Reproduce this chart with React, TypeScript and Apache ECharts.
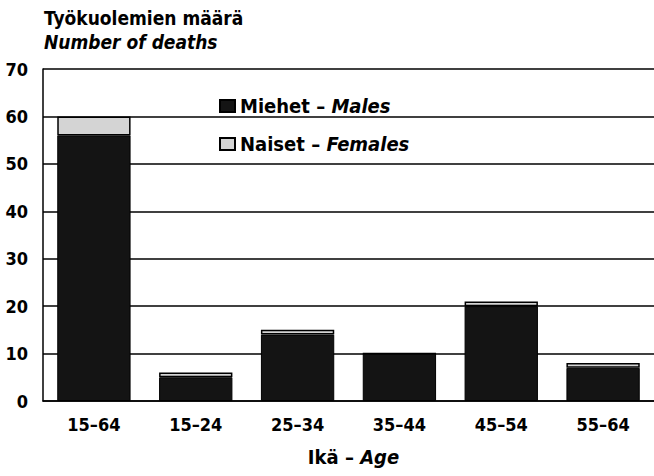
import React, { useEffect, useRef } from "react";
import * as echarts from "echarts";

const categories = ["15–64", "15–24", "25–34", "35–44", "45–54", "55–64"];
const males = [56, 5, 14, 10, 20, 7];
const females = [4, 1, 1, 0, 1, 1];
const seriesFi = ["Miehet", "Naiset"];
const seriesEn = ["Males", "Females"];
const yTicks = [0, 10, 20, 30, 40, 50, 60, 70];

const FONT = "'Liberation Sans Narrow', 'DejaVu Sans Condensed', 'Liberation Sans', sans-serif";

export default function App() {
  const ref = useRef<HTMLDivElement>(null);
  useEffect(() => {
    if (!ref.current) return;
    const chart = echarts.init(ref.current, null, { renderer: "svg" });
    chart.setOption({
      animation: false,
      backgroundColor: "#ffffff",
      title: {
        text: "Työkuolemien määrä",
        subtext: "Number of deaths",
        left: 39,
        top: 3,
        itemGap: 5,
        textStyle: { fontFamily: FONT, fontWeight: "bold", fontSize: 19, color: "#000" },
        subtextStyle: { fontFamily: FONT, fontStyle: "italic", fontWeight: "bold", fontSize: 19, color: "#000" },
      },
      legend: {
        orient: "vertical",
        left: 214,
        top: 91,
        itemGap: 18,
        itemWidth: 15,
        itemHeight: 12,
        icon: "rect",
        data: seriesFi,
        formatter: (name: string) => {
          const i = seriesFi.indexOf(name);
          return `{a|${name} – }{b|${seriesEn[i]}}`;
        },
        textStyle: {
          fontFamily: FONT,
          fontSize: 20,
          color: "#000",
          rich: {
            a: { fontFamily: FONT, fontSize: 20, fontWeight: "bold", color: "#000" },
            b: { fontFamily: FONT, fontSize: 20, fontWeight: "bold", fontStyle: "italic", color: "#000" },
          },
        },
      },
      grid: { left: 43, top: 69, width: 620, bottom: 75, containLabel: false },
      xAxis: {
        type: "category",
        data: categories,
        axisTick: { show: false },
        axisLine: { show: true, lineStyle: { color: "#000", width: 1.5 } },
        axisLabel: { fontFamily: FONT, fontWeight: "bold", fontSize: 18, color: "#000", margin: 14 },
        name: "{a|Ikä – }{b|Age}",
        nameLocation: "middle",
        nameGap: 46,
        nameTextStyle: {
          padding: [0, 0, 0, 10],
          rich: {
            a: { fontFamily: FONT, fontSize: 20, fontWeight: "bold", color: "#000" },
            b: { fontFamily: FONT, fontSize: 20, fontWeight: "bold", fontStyle: "italic", color: "#000" },
          },
        },
      },
      yAxis: {
        type: "value",
        min: yTicks[0],
        max: yTicks[yTicks.length - 1],
        interval: 10,
        axisLine: { show: true, lineStyle: { color: "#000", width: 1.5 } },
        axisTick: { show: false },
        splitLine: { show: true, lineStyle: { color: "#000", width: 1.5 } },
        axisLabel: { fontFamily: FONT, fontWeight: "bold", fontSize: 18, color: "#000", margin: 15 },
      },
      series: [
        {
          name: seriesFi[0],
          type: "bar",
          stack: "total",
          data: males,
          barCategoryGap: "28%",
          itemStyle: { color: "#141414", borderColor: "#000", borderWidth: 1 },
        },
        {
          name: seriesFi[1],
          type: "bar",
          stack: "total",
          data: females,
          barCategoryGap: "28%",
          itemStyle: { color: "#d4d4d4", borderColor: "#000", borderWidth: 1.5 },
        },
      ],
    });
    return () => chart.dispose();
  }, []);
  return <div ref={ref} style={{ width: 654, height: 476, position: "absolute", left: 0, top: 0 }} />;
}
